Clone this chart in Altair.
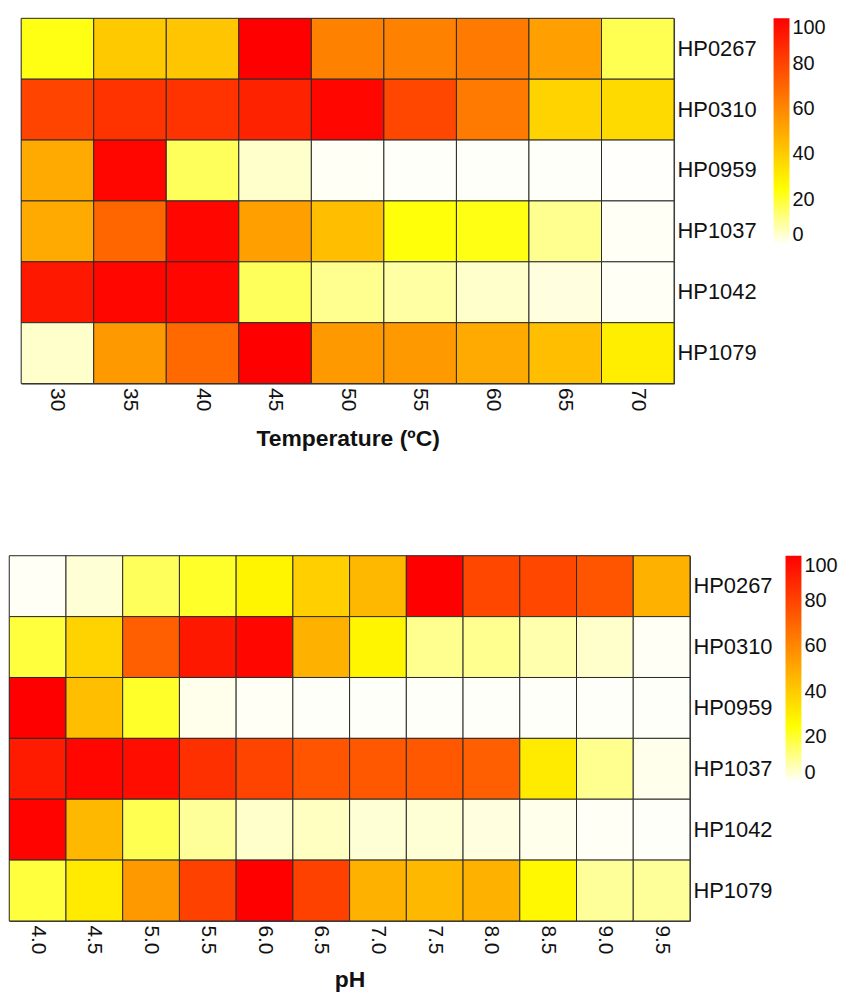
import altair as alt
import pandas as pd

genes = ["HP0267", "HP0310", "HP0959", "HP1037", "HP1042", "HP1079"]

temps = ["30", "35", "40", "45", "50", "55", "60", "65", "70"]
temp_vals = {
    "HP0267": [23, 41, 42, 100, 62, 62, 64, 53, 17],
    "HP0310": [80, 85, 85, 90, 98, 79, 64, 38, 36],
    "HP0959": [50, 98, 16, 5, 1, 0.5, 0.5, 0.5, 0.3],
    "HP1037": [50, 70, 98, 53, 44, 24, 23, 11, 1],
    "HP1042": [93, 98, 98, 16, 11, 9, 5, 3, 1],
    "HP1079": [5, 55, 69, 100, 55, 55, 50, 44, 30],
}

phs = ["4.0", "4.5", "5.0", "5.5", "6.0", "6.5", "7.0", "7.5", "8.0", "8.5", "9.0", "9.5"]
ph_vals = {
    "HP0267": [1, 4, 16, 21, 28, 39, 46, 100, 79, 79, 75, 48],
    "HP0310": [19, 38, 72, 93, 98, 48, 28, 11, 11, 8, 5, 1],
    "HP0959": [100, 44, 21, 2, 1, 0.5, 0.5, 0.5, 0.5, 0.5, 0.5, 0.5],
    "HP1037": [92, 98, 96, 86, 80, 75, 74, 74, 72, 31, 11, 2],
    "HP1042": [99, 46, 17, 10, 5, 6, 4, 4, 3, 2, 1, 0.5],
    "HP1079": [19, 31, 55, 81, 100, 81, 48, 46, 48, 27, 10, 10],
}

legend_values = [0, 20, 40, 60, 80, 100]


def long_df(cols, vals, colname):
    rows = []
    for g in genes:
        for c, v in zip(cols, vals[g]):
            rows.append({"gene": g, colname: c, "value": v})
    return pd.DataFrame(rows)


df_t = long_df(temps, temp_vals, "temp")
df_p = long_df(phs, ph_vals, "ph")

FONT = "Liberation Sans"


def color_enc(lx, ly):
    return alt.Color(
        "value:Q",
        scale=alt.Scale(domain=[0, 25, 100], range=["#FFFFFF", "#FFFF00", "#FF0000"], interpolate="rgb"),
        legend=alt.Legend(
            title=None,
            orient="none",
            legendX=lx,
            legendY=ly,
            direction="vertical",
            gradientLength=228,
            gradientThickness=16,
            gradientStrokeWidth=0,
            values=legend_values,
            labelFontSize=20,
            labelFont=FONT,
            labelColor="#111",
            labelOverlap=False,
            labelOffset=3,
        ),
    )


def heat(df, xfield, xorder, title, width, height, lx, ly, tpad):
    return (
        alt.Chart(df)
        .mark_rect(stroke="#2a2a2a", strokeWidth=1)
        .encode(
            x=alt.X(
                f"{xfield}:N",
                sort=xorder,
                title=title,
                axis=alt.Axis(
                    labelAngle=90,
                    labelAlign="left",
                    labelBaseline="middle",
                    labelFontSize=21,
                    labelFont=FONT,
                    labelColor="#111",
                    labelPadding=4,
                    ticks=False,
                    domain=False,
                    titleFont=FONT,
                    titleFontSize=23,
                    titleFontWeight="bold",
                    titleColor="#111",
                    titlePadding=tpad,
                ),
            ),
            y=alt.Y(
                "gene:N",
                sort=genes,
                title=None,
                axis=alt.Axis(
                    orient="right",
                    labelFontSize=22,
                    labelFont=FONT,
                    labelColor="#111",
                    labelPadding=3,
                    ticks=False,
                    domain=False,
                ),
            ),
            color=color_enc(lx, ly),
        )
        .properties(width=width, height=height)
    )


top = heat(df_t, "temp", temps, "Temperature (ºC)", 656, 367, 756, 0, 17)
bottom = heat(df_p, "ph", phs, "pH", 684, 367, 780, 0, 15)

chart = (
    alt.vconcat(top, bottom, spacing=104, center=True)
    .resolve_scale(color="independent")
    .properties(padding={"left": 0, "top": 7, "right": 0, "bottom": 0})
    .configure_view(stroke="#444", strokeWidth=1)
    .configure_scale(bandPaddingInner=0, bandPaddingOuter=0)
)

chart.save("out.html", embed_options={"renderer": "svg", "actions": False})
